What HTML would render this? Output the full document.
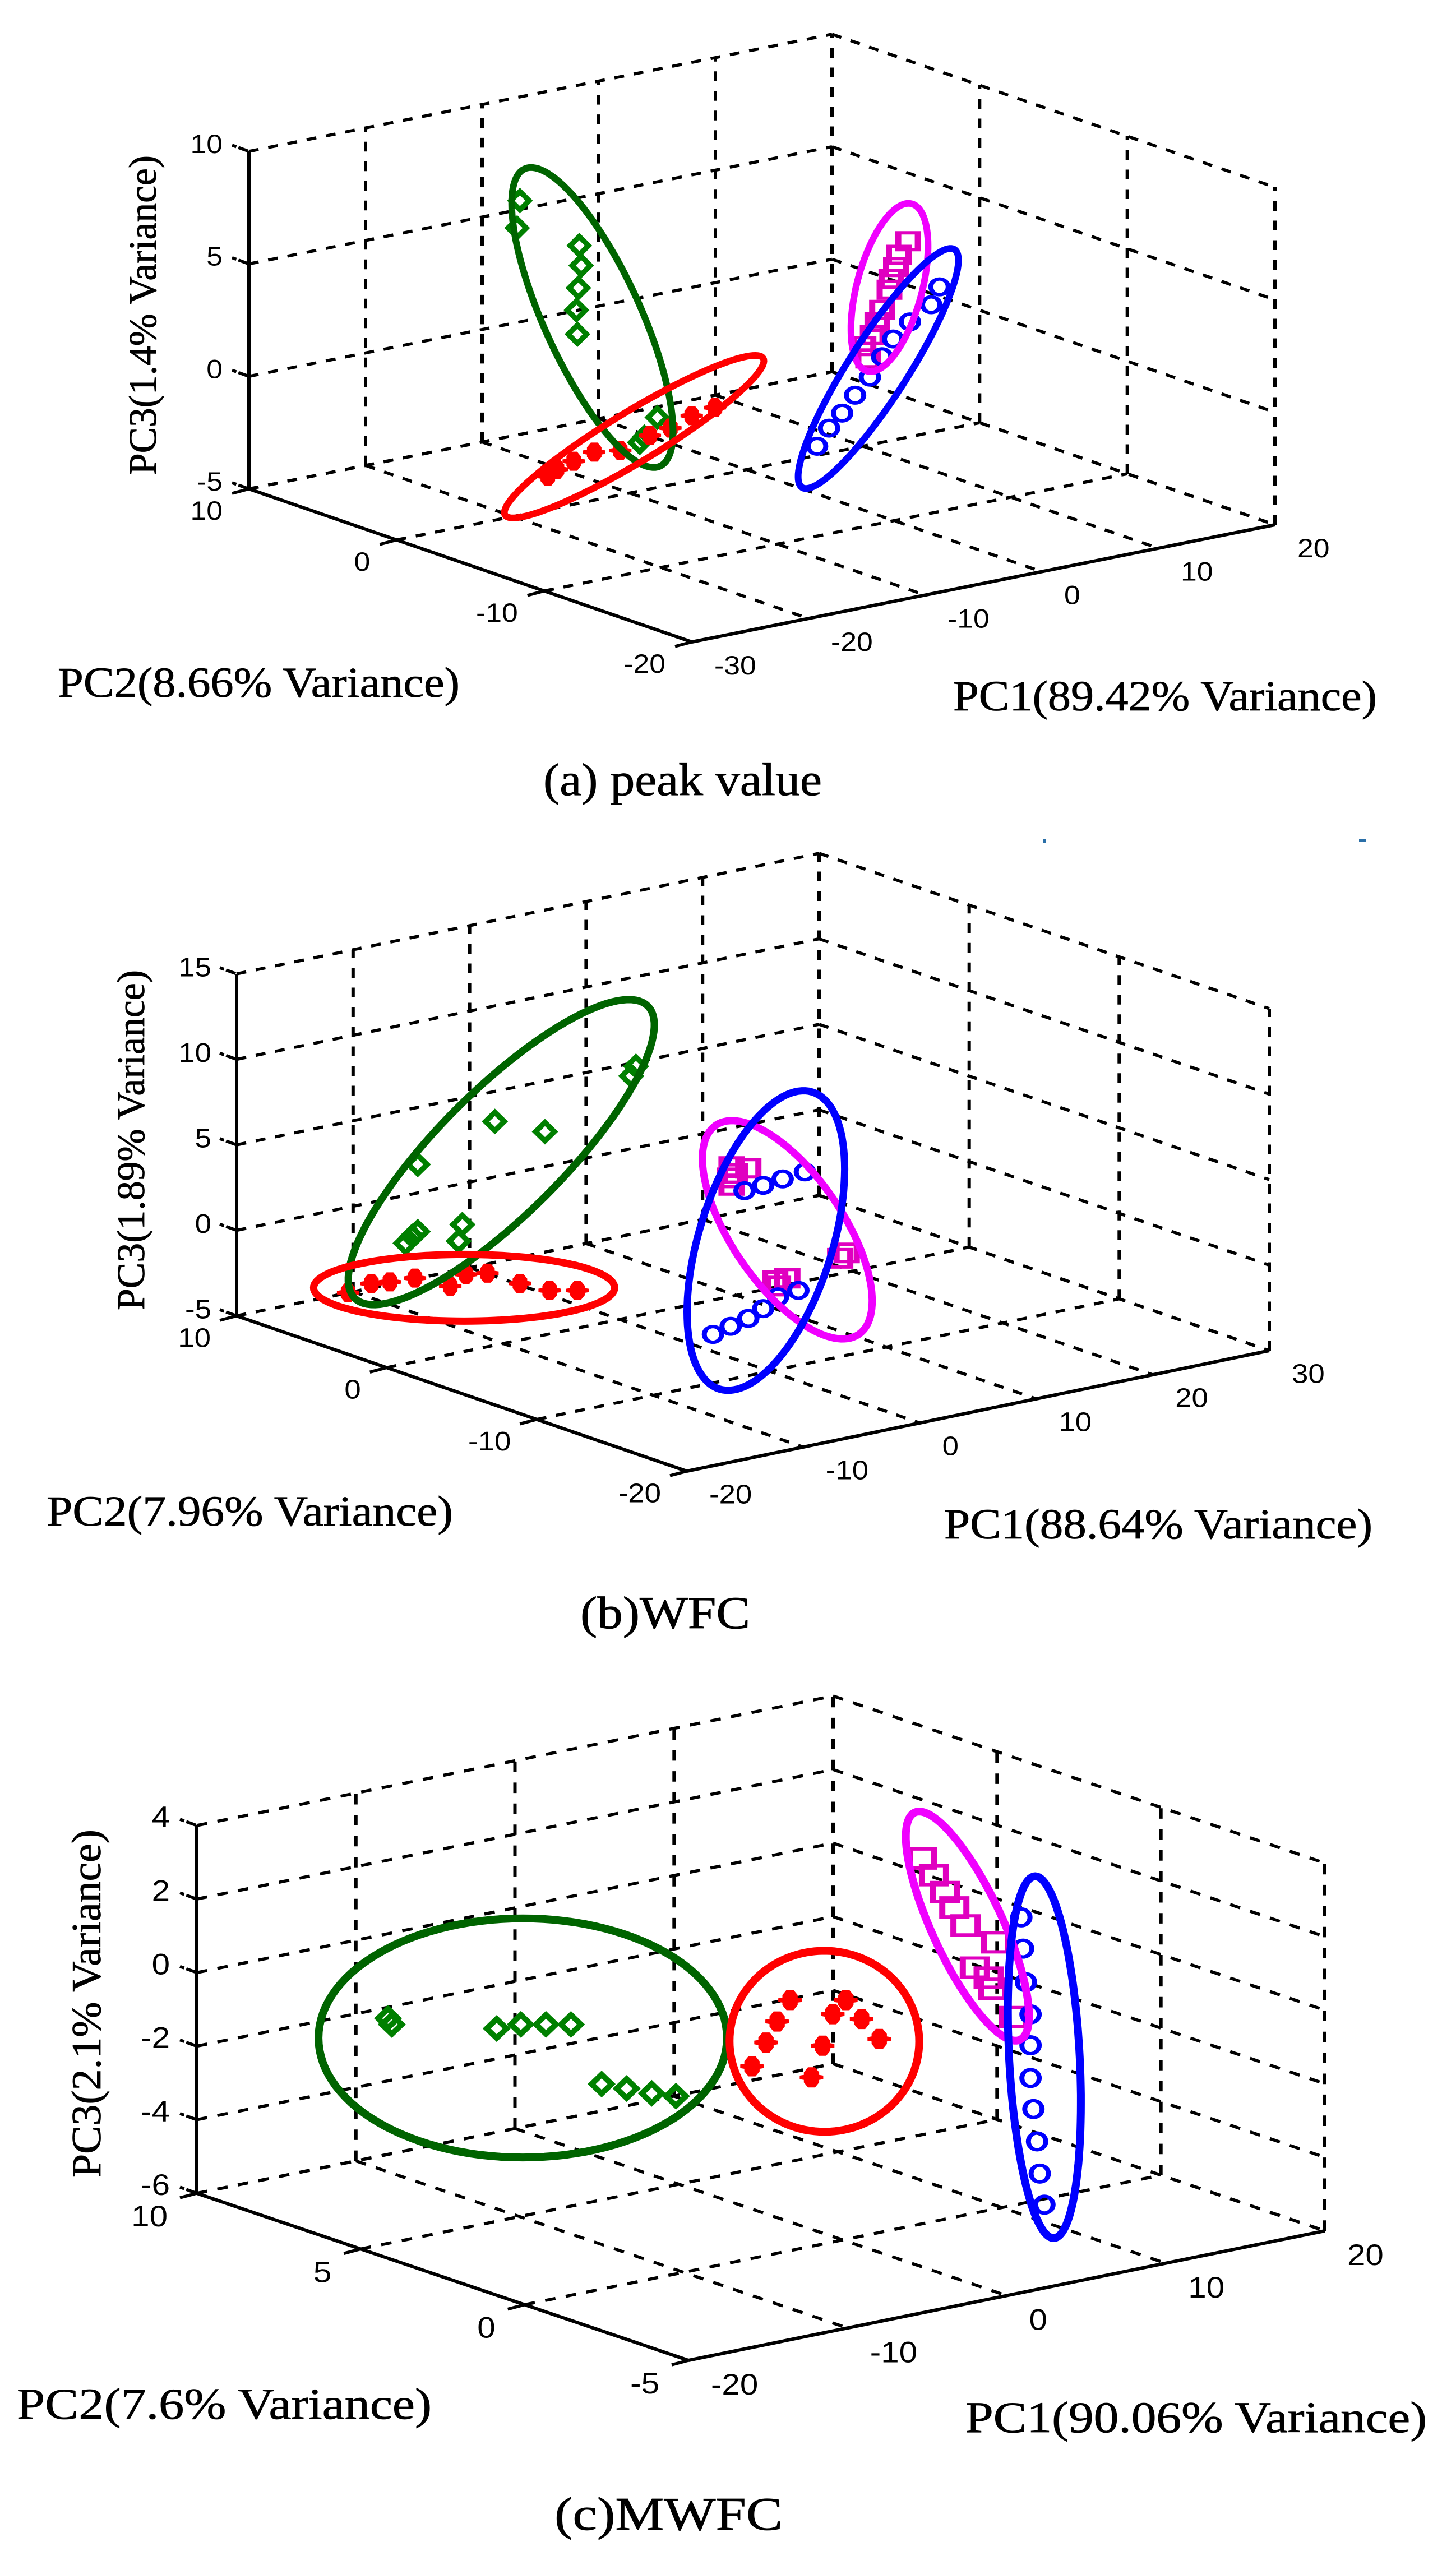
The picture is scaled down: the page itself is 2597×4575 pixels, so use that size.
<!DOCTYPE html>
<html lang="en">
<head>
<meta charset="utf-8">
<title>PCA score plots</title>
<style>
html,body{margin:0;padding:0;background:#fff;}
svg{display:block;}
.title{font-family:"Liberation Serif",serif;fill:#000;stroke:#000;stroke-width:0.8;}
.tick{font-family:"Liberation Sans",sans-serif;fill:#000;}
</style>
</head>
<body>
<svg id="chart" xmlns="http://www.w3.org/2000/svg" width="2597" height="4575" viewBox="0 0 2597 4575">
  <rect x="0" y="0" width="2597" height="4575" fill="#fff"/>

  <g id="panel-a"></g>
  <g id="panel-b"></g>
  <g id="panel-c"></g>

  <text class="title" x="103" y="1243" font-size="76" textLength="717" lengthAdjust="spacingAndGlyphs">PC2(8.66% Variance)</text>
  <text class="title" x="1700" y="1267" font-size="76" textLength="756" lengthAdjust="spacingAndGlyphs">PC1(89.42% Variance)</text>
  <text class="title" transform="translate(278 847) rotate(-90)" font-size="70" textLength="570" lengthAdjust="spacingAndGlyphs">PC3(1.4% Variance)</text>
  <text class="title" x="969" y="1418" font-size="82" textLength="497" lengthAdjust="spacingAndGlyphs">(a) peak value</text>

  <text class="title" x="83" y="2721" font-size="76" textLength="725" lengthAdjust="spacingAndGlyphs">PC2(7.96% Variance)</text>
  <text class="title" x="1684" y="2744" font-size="76" textLength="764" lengthAdjust="spacingAndGlyphs">PC1(88.64% Variance)</text>
  <text class="title" transform="translate(257 2337) rotate(-90)" font-size="70" textLength="607" lengthAdjust="spacingAndGlyphs">PC3(1.89% Variance)</text>
  <text class="title" x="1035" y="2904" font-size="82" textLength="303" lengthAdjust="spacingAndGlyphs">(b)WFC</text>

  <text class="title" x="30" y="4314" font-size="78" textLength="740" lengthAdjust="spacingAndGlyphs">PC2(7.6% Variance)</text>
  <text class="title" x="1722" y="4338" font-size="78" textLength="823" lengthAdjust="spacingAndGlyphs">PC1(90.06% Variance)</text>
  <text class="title" transform="translate(179 3884) rotate(-90)" font-size="74" textLength="621" lengthAdjust="spacingAndGlyphs">PC3(2.1% Variance)</text>
  <text class="title" x="989" y="4512" font-size="84" textLength="407" lengthAdjust="spacingAndGlyphs">(c)MWFC</text>

  <rect x="1860" y="1496" width="5" height="8" fill="#2a6fa8"/>
  <rect x="2424" y="1496" width="12" height="5" fill="#2a6fa8"/>
</svg>
<script>
/* ---------- Panel A data: peak value ---------- */
const aPc1Ticks = [-30,-20,-10,0,10,20];
const aPc2Ticks = [10,0,-10,-20];
const aPc3Ticks = [-5,0,5,10];
const aPlanePc2 = 10;
const aGreenPc1 = [-6.76,-7.00,-1.67,-1.51,-1.75,-1.91,-1.83,5.02,3.91,3.51];
const aGreenPc3 = [5.39,4.20,2.86,1.96,0.99,0.02,-1.06,-5.47,-6.23,-6.43];
const aRedPc1 = [-4.37,-3.58,-2.15,-0.39,1.84,4.38,6.14,7.97,9.96];
const aRedPc3 = [-7.11,-6.88,-6.67,-6.45,-6.61,-6.21,-6.06,-5.70,-5.55];
const aMagentaPc1 = [26.52,25.72,25.48,25.09,24.93,24.29,23.89,23.49,22.70,23.10];
const aMagentaPc3 = [0.12,-0.40,-0.92,-1.40,-1.87,-2.70,-3.19,-3.74,-4.14,-4.73];
const aBluePc1 = [29.22,28.51,26.68,25.24,24.29,23.25,21.98,20.87,19.75,18.72];
const aBluePc3 = [-2.19,-2.91,-3.48,-4.09,-4.78,-5.58,-6.25,-6.93,-7.48,-8.18];
/* ellipse arrays: centre, major-axis tip, conjugate tip */
const aGreenEllipsePc1 = [-0.55,-6.37,3.19];
const aGreenEllipsePc3 = [-0.45,6.76,0.07];
const aRedEllipsePc1 = [3.03,14.10,4.15];
const aRedEllipsePc3 = [-6.12,-3.79,-7.19];
const aMagentaEllipsePc1 = [24.93,26.84,27.63];
const aMagentaEllipsePc3 = [-1.77,1.75,-2.43];
const aBlueEllipsePc1 = [23.97,30.50,26.12];
const aBlueEllipsePc3 = [-5.27,-0.66,-6.18];

/* ---------- Panel B data: WFC ---------- */
const bPc1Ticks = [-20,-10,0,10,20,30];
const bPc2Ticks = [10,0,-10,-20];
const bPc3Ticks = [-5,0,5,10,15];
const bPlanePc2 = 10;
const bGreenPc1 = [14.28,13.88,2.17,6.47,-4.45,-4.45,-4.93,-5.49,-0.62,-0.94];
const bGreenPc3 = [4.76,4.25,3.24,2.04,1.66,-2.26,-2.47,-2.80,-2.39,-3.32];
const bRedPc1 = [-10.43,-8.43,-6.84,-4.69,-1.66,-0.31,1.53,4.32,6.87,9.26];
const bRedPc3 = [-4.99,-4.74,-4.87,-4.95,-5.85,-5.35,-5.54,-6.53,-7.30,-7.64];
const bMagentaPc1 = [22.49,23.92,22.33,22.49,22.80,26.23,27.27,26.47,32.37,31.81];
const bMagentaPc3 = [-2.26,-2.56,-2.90,-3.36,-2.71,-9.47,-9.46,-9.81,-8.70,-8.94];
const bBluePc1 = [28.78,26.87,25.20,23.60,28.22,26.47,25.20,23.92,22.41,20.89];
const bBluePc3 = [-3.46,-3.60,-3.74,-3.83,-10.31,-10.44,-10.95,-11.34,-11.59,-11.85];
const bGreenEllipsePc1 = [2.72,15.31,6.47];
const bGreenEllipsePc3 = [1.37,8.13,-1.76];
const bRedEllipsePc1 = [-0.47,12.45,-0.47];
const bRedEllipsePc3 = [-6.11,-7.93,-8.06];
const bMagentaEllipsePc1 = [27.27,33.40,31.21];
const bMagentaEllipsePc3 = [-6.63,-13.61,-5.36];
const bBlueEllipsePc1 = [25.43,29.42,30.89];
const bBlueEllipsePc3 = [-7.00,1.12,-8.93];

/* ---------- Panel C data: MWFC ---------- */
const cPc1Ticks = [-20,-10,0,10,20];
const cPc2Ticks = [10,5,0,-5];
const cPc3Ticks = [-6,-4,-2,0,2,4];
const cPlanePc2 = 10;
const cGreenPc1 = [-7.98,-7.74,-1.15,0.37,1.95,3.52,5.45,7.02,8.60,10.12];
const cGreenPc3 = [-2.30,-2.49,-3.18,-3.20,-3.34,-3.48,-5.27,-5.53,-5.80,-6.01];
const cRedPc1 = [17.29,16.48,15.78,14.90,18.64,19.34,19.98,20.80,21.79,22.90];
const cRedPc3 = [-4.03,-4.54,-5.05,-5.62,-6.25,-5.45,-4.65,-4.34,-4.94,-5.58];
const cMagentaPc1 = [25.58,26.34,27.04,27.62,28.32,30.25,28.91,29.78,30.08,31.36];
const cMagentaPc3 = [-0.91,-1.43,-1.95,-2.42,-2.97,-3.60,-4.17,-4.52,-4.85,-5.73];
const cBluePc1 = [31.83,31.94,32.12,32.41,32.41,32.41,32.59,32.82,32.99,33.28];
const cBluePc3 = [-3.06,-3.92,-4.85,-5.75,-6.59,-7.48,-8.34,-9.24,-10.13,-11.00];
const cGreenEllipsePc1 = [0.49,13.33,0.49];
const cGreenEllipsePc3 = [-3.58,-4.71,-0.33];
const cRedEllipsePc1 = [19.45,25.41,19.45];
const cRedEllipsePc3 = [-5.34,-5.87,-2.88];
const cMagentaEllipsePc1 = [28.44,25.12,30.43];
const cMagentaEllipsePc3 = [-3.00,0.38,-2.76];
const cBlueEllipsePc1 = [33.28,32.70,35.50];
const cBlueEllipsePc3 = [-6.99,-2.02,-7.18];

const NS = 'http://www.w3.org/2000/svg';
const COLORS = {
  green:{mark:'#008000',ring:'#006400'},
  red:{mark:'#ff0000',ring:'#ff0000'},
  magenta:{mark:'#e000c0',ring:'#f000ff'},
  blue:{mark:'#0000ff',ring:'#0000ff'}
};
const STAR_SHAPE = [[-.3,-1],[.3,-1],[.65,-.5],[.65,-.25],[1,-.18],[1,.18],[.65,.25],[.65,.5],[.3,1],[-.3,1],[-.65,.5],[-.65,.25],[-1,.18],[-1,-.18],[-.65,-.25],[-.65,-.5]];

function node(parent, tag, attrs) {
  const el = document.createElementNS(NS, tag);
  for (const k in attrs) el.setAttribute(k, attrs[k]);
  parent.appendChild(el);
  return el;
}

/* Axis function: maps (pc1, pc2, pc3) to page pixels for a panel's box */
function axes(box, pc1T, pc2T, pc3T) {
  const p1min = pc1T[0], p1max = pc1T[pc1T.length-1];
  const p2max = pc2T[0], p2min = pc2T[pc2T.length-1];
  const p3min = pc3T[0], p3max = pc3T[pc3T.length-1];
  return function (p1, p2, p3) {
    const t1 = (p1 - p1min) / (p1max - p1min);
    const t2 = (p2max - p2) / (p2max - p2min);
    const t3 = (p3 - p3min) / (p3max - p3min);
    return [
      box.left[0] + t1 * (box.right[0] - box.front[0]) + t2 * (box.front[0] - box.left[0]),
      box.left[1] + t1 * (box.right[1] - box.front[1]) + t2 * (box.front[1] - box.left[1]) - t3 * box.height
    ];
  };
}

function seg(parent, a, b, width, dash, name) {
  const el = node(parent, 'line', {x1:a[0].toFixed(1), y1:a[1].toFixed(1), x2:b[0].toFixed(1), y2:b[1].toFixed(1), stroke:'#000', 'stroke-width':width});
  if (dash) el.setAttribute('stroke-dasharray', dash);
  
  
  return el;
}

function label(parent, pos, text, o, anchor, name) {
  const el = node(parent, 'text', {transform:'translate(' + pos[0].toFixed(1) + ' ' + (pos[1] + o.size * 0.36).toFixed(1) + ') scale(' + o.sx + ' 1)', 'font-size':o.size, 'class':'tick', 'text-anchor':anchor});
  el.textContent = text;
  
  
}

function drawAxes(g, P, pc1T, pc2T, pc3T, o) {
  const p1min = pc1T[0], p1max = pc1T[pc1T.length-1];
  const p2max = pc2T[0], p2min = pc2T[pc2T.length-1];
  const p3min = pc3T[0], p3max = pc3T[pc3T.length-1];
  const DASH = o.dash;
  pc1T.forEach(function (t) {
    if (t !== p1min) seg(g, P(t,p2max,p3min), P(t,p2min,p3min), 5.5, DASH, 'pc1-floor-gridline');
    if (t !== p1min) seg(g, P(t,p2max,p3min), P(t,p2max,p3max), 6, DASH, 'pc1-wall-gridline');
  });
  pc2T.forEach(function (t) {
    if (t !== p2min) seg(g, P(p1min,t,p3min), P(p1max,t,p3min), 5.5, DASH, 'pc2-floor-gridline');
    if (t !== p2max) seg(g, P(p1max,t,p3min), P(p1max,t,p3max), 6, DASH, 'pc2-wall-gridline');
  });
  pc3T.forEach(function (t) {
    seg(g, P(p1min,p2max,t), P(p1max,p2max,t), 5.5, DASH, 'pc3-left-wall-gridline');
    seg(g, P(p1max,p2max,t), P(p1max,p2min,t), 5.5, DASH, 'pc3-right-wall-gridline');
  });
  seg(g, P(p1min,p2max,p3min), P(p1min,p2max,p3max), 6, null, 'pc3-axis-line');
  seg(g, P(p1min,p2max,p3min), P(p1min,p2min,p3min), 6, null, 'pc2-axis-line');
  seg(g, P(p1min,p2min,p3min), P(p1max,p2min,p3min), 6, null, 'pc1-axis-line');
  pc3T.forEach(function (t) {
    const a = P(p1min,p2max,t);
    seg(g, [a[0]-30,a[1]-11], a, 5.5, '8 4 18', 'pc3-tick-mark');
    label(g, [a[0]-o.zx,a[1]-o.zy], String(t), o, 'end', 'pc3-tick-label');
  });
  pc2T.forEach(function (t) {
    const a = P(p1min,t,p3min);
    seg(g, [a[0]-30,a[1]+8], a, 5.5, null, 'pc2-tick-mark');
    label(g, [a[0]-o.px,a[1]+o.py], String(t), o, 'end', 'pc2-tick-label');
  });
  pc1T.forEach(function (t) {
    const a = P(t,p2min,p3min);
    label(g, [a[0]+o.qx,a[1]+o.qy], String(t), o, 'start', 'pc1-tick-label');
  });
}

function polyPath(x, y, pts) {
  return pts.map(function (p, i) {
    return (i ? 'L' : 'M') + (x + p[0]).toFixed(1) + ' ' + (y + p[1]).toFixed(1);
  }).join('') + 'Z';
}
function rectPts(w, h) { return [[-w,-h],[w,-h],[w,h],[-w,h]]; }
function diamondPts(w, h) { return [[0,-h],[w,0],[0,h],[-w,0]]; }
function ovalPath(x, y, rx, ry) {
  return 'M' + (x-rx) + ' ' + y + 'A' + rx + ' ' + ry + ' 0 1 0 ' + (x+rx) + ' ' + y + 'A' + rx + ' ' + ry + ' 0 1 0 ' + (x-rx) + ' ' + y + 'Z';
}

function drawPoints(g, P, plane, pc1, pc3, kind, name, o) {
  const c = COLORS[name].mark;
  pc1.forEach(function (v, i) {
    const a = P(v, plane, pc3[i]), x = a[0], y = a[1];
    let d;
    if (kind === 'diamond') {
      d = polyPath(x, y, diamondPts(o.dw, o.dh)) + polyPath(x, y, diamondPts(o.dw * 0.42, o.dh * 0.42));
    } else if (kind === 'square') {
      d = polyPath(x, y, rectPts(o.sw, o.sh)) + polyPath(x, y, rectPts(o.sw - 11, o.sh - 6));
    } else if (kind === 'circle') {
      d = ovalPath(x, y, o.rx, o.ry) + ovalPath(x, y, o.rx - 9, o.ry - 6);
    } else {
      d = polyPath(x, y, STAR_SHAPE.map(function (p) { return [p[0] * o.tw, p[1] * o.th]; }));
    }
    const el = node(g, 'path', {d:d, fill:c, 'fill-rule':'evenodd'});
    
    
  });
}

function drawEllipse(g, P, plane, e1, e3, name, width) {
  const c = P(e1[0], plane, e3[0]), m = P(e1[1], plane, e3[1]), n = P(e1[2], plane, e3[2]);
  let d = '';
  for (let i = 0; i < 120; i++) {
    const t = i / 120 * Math.PI * 2, u = Math.cos(t), v = Math.sin(t);
    const x = c[0] + u * (m[0]-c[0]) + v * (n[0]-c[0]);
    const y = c[1] + u * (m[1]-c[1]) + v * (n[1]-c[1]);
    d += (i ? 'L' : 'M') + x.toFixed(1) + ' ' + y.toFixed(1);
  }
  const el = node(g, 'path', {d:d + 'Z', fill:'none', stroke:COLORS[name].ring, 'stroke-width':width});
  
  
}

function drawPanel(id, box, style, pc1T, pc2T, pc3T, plane, s) {
  const g = document.getElementById(id);
  const P = axes(box, pc1T, pc2T, pc3T);
  drawAxes(g, P, pc1T, pc2T, pc3T, style);
  drawPoints(g, P, plane, s.gp1, s.gp3, 'diamond', 'green', style);
  drawPoints(g, P, plane, s.rp1, s.rp3, 'star', 'red', style);
  drawPoints(g, P, plane, s.mp1, s.mp3, 'square', 'magenta', style);
  drawPoints(g, P, plane, s.bp1, s.bp3, 'circle', 'blue', style);
  drawEllipse(g, P, plane, s.ge1, s.ge3, 'green', style.ring);
  drawEllipse(g, P, plane, s.re1, s.re3, 'red', style.ring);
  drawEllipse(g, P, plane, s.me1, s.me3, 'magenta', style.ring);
  drawEllipse(g, P, plane, s.be1, s.be3, 'blue', style.ring);
}

drawPanel('panel-a',
  {left:[444,872], front:[1234,1145], right:[2274,936], height:602},
  {size:47, sx:1.1, zx:47, zy:14, px:47, py:38, qx:40, qy:41, dw:23, dh:23, sw:23, sh:18, rx:20, ry:17, tw:20, th:17, ring:12, dash:'17.5 17.5'},
  aPc1Ticks, aPc2Ticks, aPc3Ticks, aPlanePc2,
  {gp1:aGreenPc1, gp3:aGreenPc3, rp1:aRedPc1, rp3:aRedPc3, mp1:aMagentaPc1, mp3:aMagentaPc3, bp1:aBluePc1, bp3:aBluePc3,
   ge1:aGreenEllipsePc1, ge3:aGreenEllipsePc3, re1:aRedEllipsePc1, re3:aRedEllipsePc3, me1:aMagentaEllipsePc1, me3:aMagentaEllipsePc3, be1:aBlueEllipsePc1, be3:aBlueEllipsePc3});

drawPanel('panel-b',
  {left:[422,2347], front:[1225,2624], right:[2264,2409], height:610},
  {size:48, sx:1.1, zx:45, zy:13, px:46, py:38, qx:40, qy:40, dw:23.5, dh:23, sw:23.5, sh:18.5, rx:20, ry:17, tw:20, th:17, ring:13, dash:'17.5 17.5'},
  bPc1Ticks, bPc2Ticks, bPc3Ticks, bPlanePc2,
  {gp1:bGreenPc1, gp3:bGreenPc3, rp1:bRedPc1, rp3:bRedPc3, mp1:bMagentaPc1, mp3:bMagentaPc3, bp1:bBluePc1, bp3:bBluePc3,
   ge1:bGreenEllipsePc1, ge3:bGreenEllipsePc3, re1:bRedEllipsePc1, re3:bRedEllipsePc3, me1:bMagentaEllipsePc1, me3:bMagentaEllipsePc3, be1:bBlueEllipsePc1, be3:bBlueEllipsePc3});

drawPanel('panel-c',
  {left:[351,3912], front:[1228,4210], right:[2363,3979], height:656},
  {size:53, sx:1.1, zx:48, zy:16, px:52, py:40, qx:40, qy:42, dw:25, dh:24, sw:27, sh:20, rx:20, ry:18, tw:21, th:18, ring:14, dash:'18.7 18.7'},
  cPc1Ticks, cPc2Ticks, cPc3Ticks, cPlanePc2,
  {gp1:cGreenPc1, gp3:cGreenPc3, rp1:cRedPc1, rp3:cRedPc3, mp1:cMagentaPc1, mp3:cMagentaPc3, bp1:cBluePc1, bp3:cBluePc3,
   ge1:cGreenEllipsePc1, ge3:cGreenEllipsePc3, re1:cRedEllipsePc1, re3:cRedEllipsePc3, me1:cMagentaEllipsePc1, me3:cMagentaEllipsePc3, be1:cBlueEllipsePc1, be3:cBlueEllipsePc3});
</script>
</body>
</html>
